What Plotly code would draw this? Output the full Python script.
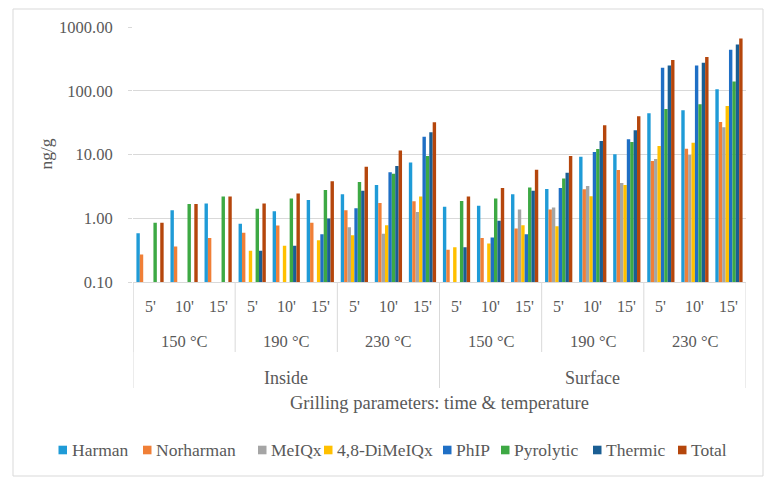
import plotly.graph_objects as go

# ---------------- data ----------------
locations = ["Inside", "Surface"]
temperatures = ["150 °C", "190 °C", "230 °C"]
times = ["5'", "10'", "15'"]
y_tick_values = [0.1, 1, 10, 100, 1000]
y_tick_labels = ["0.10", "1.00", "10.00", "100.00", "1000.00"]

series_names = ["Harman", "Norharman", "MeIQx", "4,8-DiMeIQx", "PhIP", "Pyrolytic", "Thermic", "Total"]

harman = [0.58, 1.33, 1.71, 0.82, 1.29, 1.93, 2.37, 3.31, 7.5, 1.51, 1.57, 2.37, 2.87, 9.2, 10.1, 44.4, 49.5, 106]
norharman = [0.27, 0.36, 0.49, 0.59, 0.77, 0.85, 1.34, 1.73, 1.84, 0.32, 0.49, 0.69, 1.37, 2.84, 5.7, 7.9, 12.3, 32.4]
meiqx = [None, None, None, None, None, None, 0.72, 0.57, 1.25, None, None, 1.37, 1.48, 3.2, 3.56, 8.5, 9.8, 26.8]
dimeiqx = [None, None, None, 0.31, 0.37, 0.45, 0.54, 0.78, 2.2, 0.35, 0.40, 0.78, 0.75, 2.22, 3.31, 13.6, 15.3, 57.9]
phip = [None, None, None, None, None, 0.56, 1.44, 5.25, 19.0, None, 0.50, 0.56, 2.97, 10.9, 17.3, 229, 249, 440]
pyrolytic = [0.85, 1.67, 2.2, 1.41, 2.05, 2.77, 3.7, 4.99, 9.5, 1.86, 2.05, 3.05, 4.22, 12.2, 15.7, 51.9, 61.5, 139.6]
thermic = [None, None, None, 0.31, 0.37, 0.99, 2.7, 6.6, 22.3, 0.35, 0.91, 2.7, 5.17, 16.3, 24, 249, 275, 532]
total = [0.85, 1.67, 2.2, 1.71, 2.45, 3.79, 6.43, 11.6, 32.1, 2.2, 2.97, 5.77, 9.5, 28.8, 39.9, 303, 337, 662]

series_values = [harman, norharman, meiqx, dimeiqx, phip, pyrolytic, thermic, total]
colors = ["#1F9BD7", "#F07F37", "#A5A5A5", "#FFC000", "#1F6FC5", "#3DA944", "#1A5E93", "#B5460C"]

# ---------------- layout constants ----------------
W, H = 776, 488
L, R, T, B = 133, 30, 27, 206
PW, PH = W - L - R, H - T - B
FONT = "Liberation Serif"
TXT = "#595959"
GRID = "#D9D9D9"


def px_x(px):
    return (px - L) / PW


def px_y(py):
    return (H - B - py) / PH


categories = [(loc, temp, t) for loc in locations for temp in temperatures for t in times]
xpos = list(range(len(categories)))

fig = go.Figure()
for name, vals, col in zip(series_names, series_values, colors):
    fig.add_trace(go.Bar(x=xpos, y=vals, name=name, marker=dict(color=col, line=dict(width=0)),
                         showlegend=False))

shapes = []
annotations = []

# time labels
for i, (loc, temp, t) in enumerate(categories):
    annotations.append(dict(x=i, y=px_y(306), xref="x", yref="paper", text=t, showarrow=False,
                            font=dict(family=FONT, size=16, color=TXT), yanchor="middle"))
# temperature labels
nt = len(times)
for j in range(len(locations) * len(temperatures)):
    temp = temperatures[j % len(temperatures)]
    annotations.append(dict(x=j * nt + (nt - 1) / 2, y=px_y(341.5), xref="x", yref="paper", text=temp,
                            showarrow=False, font=dict(family=FONT, size=16.5, color=TXT), yanchor="middle"))
    shapes.append(dict(type="line", xref="x", yref="paper", x0=j * nt - 0.5, x1=j * nt - 0.5,
                       y0=0, y1=px_y(352), line=dict(color=GRID, width=1)))
# location labels
ng = len(temperatures) * nt
for k, loc in enumerate(locations):
    annotations.append(dict(x=k * ng + (ng - 1) / 2, y=px_y(377.5), xref="x", yref="paper", text=loc,
                            showarrow=False, font=dict(family=FONT, size=18, color=TXT), yanchor="middle"))
for k in range(len(locations) + 1):
    shapes.append(dict(type="line", xref="x", yref="paper", x0=k * ng - 0.5, x1=k * ng - 0.5,
                       y0=0, y1=px_y(388), line=dict(color=GRID, width=1)))

# axis titles
annotations.append(dict(x=0.5, y=px_y(403), xref="paper", yref="paper",
                        text="Grilling parameters: time & temperature", showarrow=False,
                        font=dict(family=FONT, size=18.5, color=TXT), yanchor="middle"))
annotations.append(dict(x=px_x(45), y=0.5, xref="paper", yref="paper", text="ng/g", textangle=-90,
                        showarrow=False, font=dict(family=FONT, size=17.5, color=TXT),
                        xanchor="center", yanchor="middle"))

# legend (drawn compactly, like the original)
legend_x = [58.5, 143, 258, 324, 443, 501, 593, 678]
for name, col, lx in zip(series_names, colors, legend_x):
    shapes.append(dict(type="rect", xref="paper", yref="paper", x0=px_x(lx), x1=px_x(lx + 8.5),
                       y0=px_y(454.3), y1=px_y(445.7), fillcolor=col, line=dict(width=0)))
    annotations.append(dict(x=px_x(lx + 11), y=px_y(450.5), xref="paper", yref="paper", text=name,
                            showarrow=False, xanchor="left", yanchor="middle",
                            font=dict(family=FONT, size=17.5, color=TXT)))

# outer chart border
shapes.append(dict(type="rect", xref="paper", yref="paper", x0=px_x(13), x1=px_x(763),
                   y0=px_y(476), y1=px_y(9), line=dict(color=GRID, width=1), fillcolor="rgba(0,0,0,0)",
                   layer="below"))

fig.update_layout(
    width=W, height=H, margin=dict(l=L, r=R, t=T, b=B),
    paper_bgcolor="white", plot_bgcolor="white",
    barmode="group", bargap=0.2, bargroupgap=0.0,
    shapes=shapes, annotations=annotations,
    font=dict(family=FONT, color=TXT),
)
fig.update_xaxes(range=[-0.5, len(categories) - 0.5], showticklabels=False, showgrid=False,
                 zeroline=False, showline=True, linecolor=GRID, linewidth=1, ticks="")
fig.update_yaxes(type="log", range=[-1, 3], tickvals=y_tick_values, ticktext=y_tick_labels,
                 showgrid=True, gridcolor=GRID, gridwidth=1, zeroline=False, showline=False,
                 ticks="outside", ticklen=4, tickcolor=GRID, ticklabelstandoff=12,
                 tickfont=dict(family=FONT, size=16.5, color=TXT))

fig.write_html("out.html", config={"displayModeBar": False},
               post_script="document.body.style.margin='0';")
